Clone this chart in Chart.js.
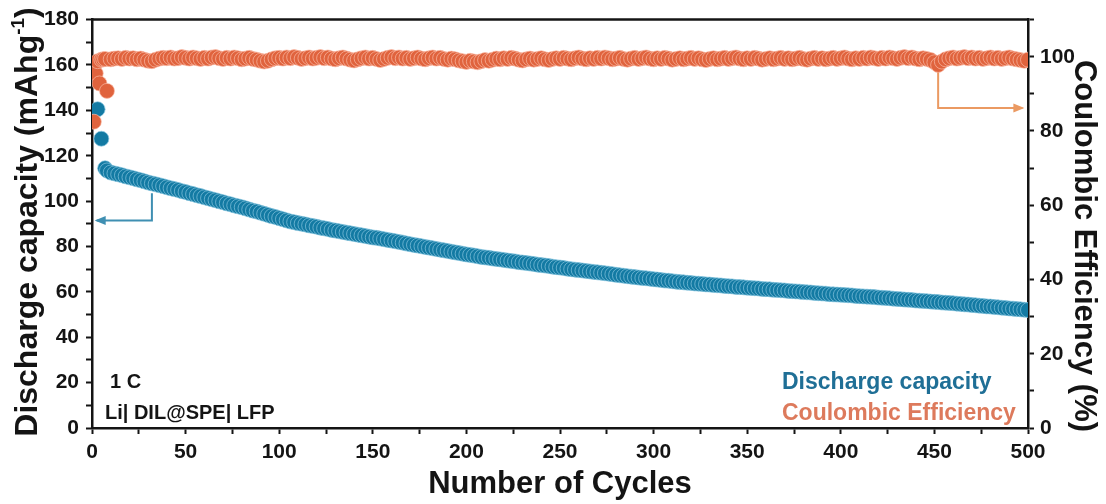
<!DOCTYPE html>
<html>
<head>
<meta charset="utf-8">
<script src="https://cdn.jsdelivr.net/npm/chart.js@4"></script>
<style>
  body { margin: 0; background: #fff; }
  #wrap { width: 1106px; height: 504px; }
</style>
</head>
<body>
<div id="wrap"><canvas id="cycleChart" width="1106" height="504"></canvas></div>
<script>
// cycle numbers (every cycle at the start, then every second cycle)
const cycles = [
  1, 2, 3, 4, 5, 6, 7, 8,
  10, 12, 14, 16, 18, 20, 22, 24, 26, 28, 30, 32, 34, 36, 38, 40, 42, 44, 46, 48,
  50, 52, 54, 56, 58, 60, 62, 64, 66, 68, 70, 72, 74, 76, 78, 80, 82, 84, 86, 88,
  90, 92, 94, 96, 98, 100, 102, 104, 106, 108, 110, 112, 114, 116, 118, 120, 122, 124, 126, 128,
  130, 132, 134, 136, 138, 140, 142, 144, 146, 148, 150, 152, 154, 156, 158, 160, 162, 164, 166, 168,
  170, 172, 174, 176, 178, 180, 182, 184, 186, 188, 190, 192, 194, 196, 198, 200, 202, 204, 206, 208,
  210, 212, 214, 216, 218, 220, 222, 224, 226, 228, 230, 232, 234, 236, 238, 240, 242, 244, 246, 248,
  250, 252, 254, 256, 258, 260, 262, 264, 266, 268, 270, 272, 274, 276, 278, 280, 282, 284, 286, 288,
  290, 292, 294, 296, 298, 300, 302, 304, 306, 308, 310, 312, 314, 316, 318, 320, 322, 324, 326, 328,
  330, 332, 334, 336, 338, 340, 342, 344, 346, 348, 350, 352, 354, 356, 358, 360, 362, 364, 366, 368,
  370, 372, 374, 376, 378, 380, 382, 384, 386, 388, 390, 392, 394, 396, 398, 400, 402, 404, 406, 408,
  410, 412, 414, 416, 418, 420, 422, 424, 426, 428, 430, 432, 434, 436, 438, 440, 442, 444, 446, 448,
  450, 452, 454, 456, 458, 460, 462, 464, 466, 468, 470, 472, 474, 476, 478, 480, 482, 484, 486, 488,
  490, 492, 494, 496, 498, 500
];

// discharge capacity, mAh/g
const capacity = [
  null, null, 140.5, null, 127.5, null, 114.5, 113.5,
  112.6, 112.2, 111.8, 111.4, 110.9, 110.5, 110.1, 109.6, 109.2, 108.7, 108.2,
  107.8, 107.4, 107.0, 106.6, 106.1, 105.7, 105.3, 104.9, 104.4, 104.0,
  103.5, 103.1, 102.6, 102.2, 101.7, 101.3, 100.8, 100.4, 99.9, 99.5, 99.0, 98.6, 98.1, 97.7,
  97.3, 96.8, 96.3, 95.8, 95.4, 94.9, 94.4, 93.9, 93.4, 93.0, 92.5, 92.0, 91.5, 91.0,
  90.7, 90.3, 90.0, 89.7, 89.3, 89.0, 88.7, 88.3, 88.0, 87.7, 87.3, 87.0,
  86.7, 86.4, 86.1, 85.8, 85.5, 85.2, 84.9, 84.6, 84.3, 84.0, 83.8, 83.5,
  83.2, 82.9, 82.6, 82.3, 82.0, 81.7, 81.3, 81.0, 80.7, 80.4, 80.1, 79.8, 79.5,
  79.2, 78.9, 78.6, 78.3, 78.0, 77.7, 77.4, 77.1, 76.8, 76.5, 76.3, 76.0, 75.7,
  75.4, 75.2, 75.0, 74.7, 74.5, 74.3, 74.1, 73.8, 73.6, 73.4, 73.1, 72.9, 72.7, 72.5,
  72.3, 72.0, 71.8, 71.6, 71.4, 71.1, 70.9, 70.7, 70.5, 70.2, 70.0, 69.8, 69.6,
  69.4, 69.2, 69.0, 68.8, 68.6, 68.4, 68.2, 68.0, 67.8, 67.5, 67.3, 67.1, 66.9, 66.7, 66.5,
  66.3, 66.1, 66.0, 65.8, 65.6, 65.4, 65.2, 65.0, 64.9, 64.7, 64.5, 64.3,
  64.2, 64.0, 63.9, 63.7, 63.6, 63.5, 63.3, 63.2, 63.0, 62.9, 62.8, 62.6, 62.5,
  62.4, 62.2, 62.1, 62.0, 61.8, 61.7, 61.6, 61.5, 61.3, 61.2, 61.1, 60.9, 60.8, 60.7,
  60.6, 60.4, 60.3, 60.2, 60.1, 59.9, 59.8, 59.7, 59.5, 59.4, 59.3, 59.2, 59.0,
  58.9, 58.8, 58.7, 58.6, 58.5, 58.4, 58.2, 58.1, 58.0, 57.9, 57.8, 57.7, 57.5,
  57.4, 57.3, 57.2, 57.0, 56.9, 56.8, 56.6, 56.5, 56.4, 56.2, 56.1, 56.0, 55.9, 55.7, 55.6, 55.5, 55.3, 55.2, 55.1, 55.0,
  54.8, 54.7, 54.5, 54.4, 54.2, 54.1, 53.9, 53.8, 53.6, 53.5, 53.3, 53.2, 53.0, 52.9, 52.7, 52.6, 52.4, 52.3, 52.1, 52.0
];

// coulombic efficiency, %
const efficiency = [
  82.5, 95.5, 98.8, 92.8, 99.2, 99.3, 99.4, 90.8,
  99.3, 99.5, 99.6, 99.4, 99.7, 99.5, 99.6, 99.3, 99.5, 99.2,
  98.9, 98.8, 99.2, 99.5, 99.7, 99.6, 99.8, 99.5, 99.6, 99.9,
  99.7, 99.5, 99.8, 99.6, 99.4, 99.7, 99.5, 99.8, 99.9, 99.6,
  99.4, 99.7, 99.5, 99.8, 99.6, 99.3, 99.5, 99.7, 99.4, 99.2,
  98.9, 98.7, 98.9, 99.3, 99.6, 99.7, 99.5, 99.8, 99.6, 99.9,
  99.7, 99.4, 99.6, 99.8, 99.5, 99.7, 99.9, 99.6, 99.8, 99.5,
  99.3, 99.6, 99.8, 99.5, 99.2, 99.0, 99.3, 99.6, 99.8, 99.5,
  99.7, 99.4, 99.1, 99.4, 99.7, 99.9, 99.6, 99.8, 99.5, 99.7,
  99.4, 99.6, 99.8, 99.5, 99.3, 99.6, 99.8, 99.5, 99.7, 99.4,
  99.2, 99.5, 99.3, 99.0, 98.8, 98.6, 98.9, 98.7, 98.5, 98.8,
  99.1, 98.9, 99.2, 99.5, 99.3, 99.6, 99.4, 99.7, 99.5, 99.2,
  99.0, 99.3, 99.5, 99.2, 99.4, 99.6, 99.3, 99.1, 99.4, 99.6,
  99.4, 99.7, 99.5, 99.3, 99.6, 99.8, 99.5, 99.3, 99.6, 99.4,
  99.7, 99.5, 99.8, 99.6, 99.3, 99.5, 99.7, 99.4, 99.2, 99.5,
  99.7, 99.4, 99.6, 99.8, 99.5, 99.3, 99.6, 99.4, 99.7, 99.5,
  99.2, 99.4, 99.6, 99.3, 99.5, 99.7, 99.4, 99.6, 99.3, 99.1,
  99.4, 99.6, 99.3, 99.5, 99.7, 99.4, 99.6, 99.8, 99.5, 99.3,
  99.6, 99.4, 99.7, 99.5, 99.2, 99.4, 99.6, 99.3, 99.5, 99.7,
  99.4, 99.6, 99.3, 99.5, 99.7, 99.4, 99.2, 99.5, 99.7, 99.4,
  99.6, 99.3, 99.5, 99.7, 99.4, 99.6, 99.8, 99.5, 99.3, 99.6,
  99.4, 99.7, 99.5, 99.8, 99.6, 99.4, 99.7, 99.5, 99.8, 99.6,
  99.4, 99.7, 99.9, 99.6, 99.8, 99.5, 99.3, 99.6, 99.4, 99.1,
  98.5, 97.8, 98.7, 99.3, 99.6, 99.8, 99.5, 99.7, 99.9, 99.6,
  99.8, 99.5, 99.7, 99.4, 99.6, 99.8, 99.5, 99.7, 99.4, 99.6,
  99.8, 99.5, 99.3, 99.1, 98.9, 99.2
];

const xTicks = [0, 50, 100, 150, 200, 250, 300, 350, 400, 450, 500];
const capTicks = [0, 20, 40, 60, 80, 100, 120, 140, 160, 180];
const ceTicks = [0, 20, 40, 60, 80, 100];

const FONT = '"Liberation Sans", Arial, sans-serif';
const INK = '#141414';
const BLUE = '#137aa3';
const ORANGE = '#e0633d';

function drawArrow(ctx, pts, color) {
  ctx.save();
  ctx.strokeStyle = color;
  ctx.fillStyle = color;
  ctx.lineWidth = 2;
  ctx.beginPath();
  ctx.moveTo(pts[0][0], pts[0][1]);
  for (let i = 1; i < pts.length; i++) ctx.lineTo(pts[i][0], pts[i][1]);
  ctx.stroke();
  // arrow head at the last point
  const [x1, y1] = pts[pts.length - 2];
  const [x2, y2] = pts[pts.length - 1];
  const ang = Math.atan2(y2 - y1, x2 - x1);
  ctx.translate(x2, y2);
  ctx.rotate(ang);
  ctx.beginPath();
  ctx.moveTo(2, 0);
  ctx.lineTo(-9, -4.5);
  ctx.lineTo(-9, 4.5);
  ctx.closePath();
  ctx.fill();
  ctx.restore();
}

const decorations = {
  id: 'decorations',
  beforeDatasetsDraw(chart) {
    const { ctx, scales } = chart;
    const x = scales.x, y = scales.y, y2 = scales.y2;
    drawArrow(ctx, [
      [x.getPixelForValue(32), y.getPixelForValue(103.5)],
      [x.getPixelForValue(32), y.getPixelForValue(91.5)],
      [x.getPixelForValue(2.5), y.getPixelForValue(91.5)]
    ], '#3f8fb2');
    drawArrow(ctx, [
      [x.getPixelForValue(452), y2.getPixelForValue(97)],
      [x.getPixelForValue(452), y2.getPixelForValue(86.2)],
      [x.getPixelForValue(497), y2.getPixelForValue(86.2)]
    ], '#eb9a62');
  },
  afterDraw(chart) {
    const { ctx, chartArea: a } = chart;
    ctx.save();

    // top edge of the frame
    ctx.strokeStyle = INK;
    ctx.lineWidth = 2.5;
    ctx.beginPath();
    ctx.moveTo(a.left, a.top);
    ctx.lineTo(a.right, a.top);
    ctx.stroke();

    ctx.textAlign = 'left';
    ctx.textBaseline = 'alphabetic';

    // cell info
    ctx.fillStyle = INK;
    ctx.font = 'bold 20px ' + FONT;
    ctx.fillText('1 C', 110, 388);
    ctx.fillText('Li| DIL@SPE| LFP', 105, 419);

    // series key
    ctx.font = 'bold 23px ' + FONT;
    ctx.fillStyle = '#1f6f96';
    ctx.fillText('Discharge capacity', 782, 389);
    ctx.fillStyle = '#dd7a5c';
    ctx.fillText('Coulombic Efficiency', 782, 420);

    // x axis title
    ctx.fillStyle = INK;
    ctx.font = 'bold 31px ' + FONT;
    ctx.textAlign = 'center';
    ctx.fillText('Number of Cycles', (a.left + a.right) / 2, 493);

    // left axis title with superscript unit
    ctx.save();
    ctx.translate(37, 222);
    ctx.rotate(-Math.PI / 2);
    ctx.textAlign = 'left';
    const big = 'bold 32px ' + FONT, small = 'bold 19px ' + FONT;
    const t1 = 'Discharge capacity (mAhg', t2 = '-1', t3 = ')';
    ctx.font = big;
    const w1 = ctx.measureText(t1).width, w3 = ctx.measureText(t3).width;
    ctx.font = small;
    const w2 = ctx.measureText(t2).width;
    let sx = -(w1 + w2 + w3) / 2;
    ctx.font = big;
    ctx.fillText(t1, sx, 0);
    ctx.font = small;
    ctx.fillText(t2, sx + w1, -13);
    ctx.font = big;
    ctx.fillText(t3, sx + w1 + w2, 0);
    ctx.restore();

    // right axis title
    ctx.save();
    ctx.translate(1075, 246);
    ctx.rotate(Math.PI / 2);
    ctx.textAlign = 'center';
    ctx.font = 'bold 31px ' + FONT;
    ctx.fillText('Coulombic Efficiency (%)', 0, 0);
    ctx.restore();

    ctx.restore();
  }
};

const tickFont = { family: FONT, size: 21, weight: 'bold' };
const axisGrid = {
  drawOnChartArea: false,
  drawTicks: true,
  tickLength: 6,
  tickWidth: 2,
  tickColor: INK
};
const axisBorder = { display: true, color: INK, width: 2.5 };

new Chart(document.getElementById('cycleChart'), {
  type: 'scatter',
  data: {
    datasets: [
      {
        label: 'Coulombic Efficiency',
        data: cycles.map((c, i) => ({ x: c, y: efficiency[i] })),
        yAxisID: 'y2',
        order: 0,
        pointRadius: 7.5,
        pointBackgroundColor: ORANGE,
        pointBorderColor: 'rgba(250,190,170,0.85)',
        pointBorderWidth: 0.8,
        showLine: false
      },
      {
        label: 'Discharge capacity',
        data: cycles.map((c, i) => ({ x: c, y: capacity[i] })),
        yAxisID: 'y',
        order: 1,
        pointRadius: 7.5,
        pointBackgroundColor: BLUE,
        pointBorderColor: 'rgba(140,200,225,0.85)',
        pointBorderWidth: 0.8,
        showLine: false
      }
    ]
  },
  options: {
    responsive: false,
    animation: false,
    layout: { padding: { top: 19, left: 0, right: 0, bottom: 0 } },
    plugins: {
      legend: { display: false },
      tooltip: { enabled: false }
    },
    scales: {
      x: {
        type: 'linear',
        min: 0,
        max: 500,
        afterFit: s => { s.height = 76; },
        grid: axisGrid,
        border: axisBorder,
        ticks: {
          stepSize: 25,
          autoSkip: false,
          maxRotation: 0,
          padding: 6,
          color: INK,
          font: tickFont,
          callback: v => xTicks.includes(v) ? String(v) : ''
        }
      },
      y: {
        position: 'left',
        min: 0,
        max: 180,
        afterFit: s => { s.width = 92; },
        grid: axisGrid,
        border: axisBorder,
        ticks: {
          stepSize: 10,
          autoSkip: false,
          padding: 7,
          color: INK,
          font: tickFont,
          callback: v => capTicks.includes(v) ? String(v) : ''
        }
      },
      y2: {
        position: 'right',
        min: 0,
        max: 110,
        afterFit: s => { s.width = 78; },
        grid: axisGrid,
        border: axisBorder,
        ticks: {
          stepSize: 10,
          autoSkip: false,
          padding: 6,
          color: INK,
          font: tickFont,
          callback: v => ceTicks.includes(v) ? String(v) : ''
        }
      }
    }
  },
  plugins: [decorations]
});
</script>
</body>
</html>
